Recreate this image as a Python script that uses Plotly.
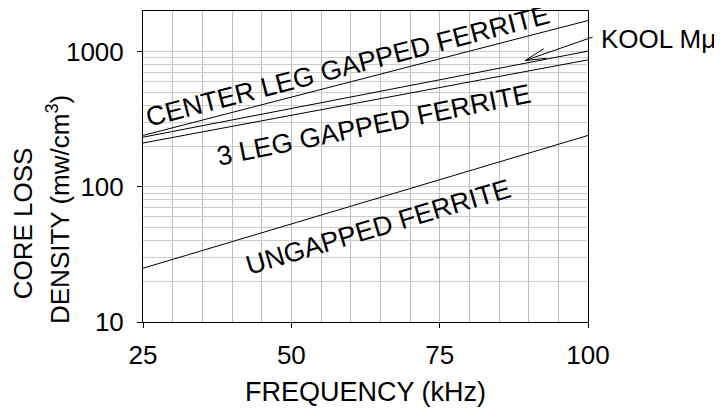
import math
import plotly.graph_objects as go

# ---- data ----
freq_khz = [25, 100]
center_leg_gapped = [240, 1700]
kool_mu = [233, 1010]
three_leg_gapped = [211, 870]
ungapped = [25, 240]

x_ticks = [25, 50, 75, 100]
y_ticks = [10, 100, 1000]

FONT = "Liberation Sans, Arial, Helvetica, sans-serif"
LINE = dict(color="black", width=1)

fig = go.Figure()
for name, vals in [("CENTER LEG GAPPED FERRITE", center_leg_gapped),
                   ("KOOL Mμ", kool_mu),
                   ("3 LEG GAPPED FERRITE", three_leg_gapped),
                   ("UNGAPPED FERRITE", ungapped)]:
    fig.add_trace(go.Scatter(x=freq_khz, y=vals, mode="lines", line=LINE,
                             name=name, showlegend=False, hoverinfo="skip"))

W, H = 722, 414
OFF = 8  # page body margin
# plot area in screen pixels
PL, PR, PT, PB = 143, 588, 11, 322
L = PL - OFF
T = PT - OFF
R = (OFF + W) - PR
B = (OFF + H) - PB
pw, ph = PR - PL, PB - PT


def px(xp):
    return (xp - PL) / pw


def py(yp):
    return (PB - yp) / ph


ann = []
# curve labels (data coords; log axis uses log10 units)
ann.append(dict(text="CENTER LEG GAPPED FERRITE", x=59.6, y=2.893, textangle=-14.5))
ann.append(dict(text="3 LEG GAPPED FERRITE", x=64.0, y=2.459, textangle=-11.5))
ann.append(dict(text="UNGAPPED FERRITE", x=64.7, y=1.704, textangle=-16.6))
for a in ann:
    a.update(xref="x", yref="y", showarrow=False, xanchor="center", yanchor="middle",
             font=dict(family=FONT, size=27, color="black"))

# KOOL Mu label and pointer
ann.append(dict(text="KOOL Mμ", xref="paper", yref="paper", x=px(599), y=py(39),
                xanchor="left", yanchor="middle", showarrow=False,
                font=dict(family=FONT, size=26, color="black")))
tip_x = 89.4
tip_y = math.log10(860)
for dx, dy in [(69, -24), (20, -12.7), (22.9, -2.4)]:
    ann.append(dict(text=" ", x=tip_x, y=tip_y, xref="x", yref="y", showarrow=True,
                    arrowhead=0, arrowwidth=1, arrowcolor="black",
                    ax=dx, ay=dy, standoff=0, startstandoff=0,
                    font=dict(size=1)))

# y-axis title, two lines
ann.append(dict(text="CORE LOSS", xref="paper", yref="paper", x=px(23.3), y=py(223),
                textangle=-90, showarrow=False, xanchor="center", yanchor="middle",
                font=dict(family=FONT, size=26, color="black")))
ann.append(dict(text="DENSITY (mw/cm<sup>3</sup>)", xref="paper", yref="paper",
                x=px(58), y=py(210), textangle=-90, showarrow=False,
                xanchor="center", yanchor="middle",
                font=dict(family=FONT, size=26, color="black")))

fig.update_layout(
    width=W, height=H,
    margin=dict(l=L, r=R, t=T, b=B, pad=0),
    paper_bgcolor="white", plot_bgcolor="white",
    font=dict(family=FONT, size=26, color="black"),
    annotations=ann,
    xaxis=dict(
        range=[25, 100], tickvals=x_ticks, ticktext=[str(v) for v in x_ticks],
        ticks="outside", ticklen=5, tickcolor="black", tickwidth=1,
        showline=True, linecolor="black", linewidth=1, mirror=True,
        showgrid=True, gridcolor="#bdbdbd", gridwidth=1, zeroline=False,
        minor=dict(dtick=5, showgrid=True, gridcolor="#bdbdbd", gridwidth=1, ticks=""),
        tickfont=dict(family=FONT, size=26, color="black"),
        ticklabelstandoff=5,
        title=dict(text="FREQUENCY (kHz)", font=dict(family=FONT, size=27, color="black"),
                   standoff=12),
    ),
    yaxis=dict(
        type="log", range=[1, math.log10(2000)], tickvals=y_ticks,
        ticktext=[str(v) for v in y_ticks],
        ticks="outside", ticklen=5, tickcolor="black", tickwidth=1,
        showline=True, linecolor="black", linewidth=1, mirror=True,
        showgrid=True, gridcolor="#cccccc", gridwidth=1, zeroline=False,
        minor=dict(dtick="D1", showgrid=True, gridcolor="#cccccc", gridwidth=1, ticks=""),
        tickfont=dict(family=FONT, size=26, color="black"),
        ticklabelstandoff=8,
    ),
)

fig.write_html("out.html")
